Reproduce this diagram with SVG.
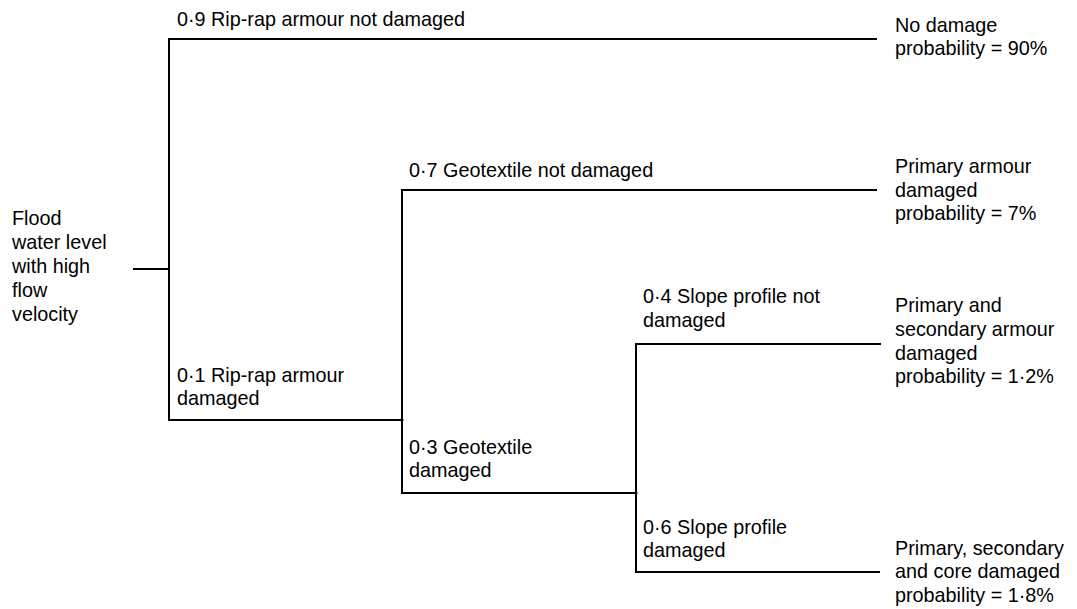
<svg xmlns="http://www.w3.org/2000/svg" width="1077" height="609" viewBox="0 0 1077 609">
<style>
text{font-family:"Liberation Sans",Arial,Helvetica,sans-serif;font-size:19.8px;fill:#000}
.c{fill:none;stroke:#000;stroke-width:2;stroke-linecap:square}
</style>
<rect width="1077" height="609" fill="#fff"/>
<g id="connectors">
<path class="c" d="M134 269H169"/>
<path class="c" d="M876 39H169V420H402"/>
<path class="c" d="M876 190H402V493H636"/>
<path class="c" d="M880 344H636V572H879"/>
<circle cx="402" cy="420" r="1.6"/>
<circle cx="636" cy="493" r="1.6"/>
</g>
<g id="root"><text x="12" y="225">Flood</text><text x="12" y="249">water level</text><text x="12" y="273">with high</text><text x="12" y="297">flow</text><text x="12" y="321">velocity</text></g>
<g id="lbl-ripnd"><text x="177" y="26">0·9 Rip-rap armour not damaged</text></g>
<g id="lbl-ripd"><text x="177" y="382">0·1 Rip-rap armour</text><text x="177" y="405">damaged</text></g>
<g id="lbl-geond"><text x="409" y="177">0·7 Geotextile not damaged</text></g>
<g id="lbl-geod"><text x="409" y="454">0·3 Geotextile</text><text x="409" y="477">damaged</text></g>
<g id="lbl-slopend"><text x="643" y="303">0·4 Slope profile not</text><text x="643" y="327">damaged</text></g>
<g id="lbl-sloped"><text x="643" y="534">0·6 Slope profile</text><text x="643" y="557">damaged</text></g>
<g id="out1"><text x="895" y="32">No damage</text><text x="895" y="55">probability = 90%</text></g>
<g id="out2"><text x="895" y="173">Primary armour</text><text x="895" y="197">damaged</text><text x="895" y="220">probability = 7%</text></g>
<g id="out3"><text x="895" y="312">Primary and</text><text x="895" y="336">secondary armour</text><text x="895" y="360">damaged</text><text x="895" y="383">probability = 1·2%</text></g>
<g id="out4"><text x="895" y="555">Primary, secondary</text><text x="895" y="578">and core damaged</text><text x="895" y="602">probability = 1·8%</text></g>
</svg>
